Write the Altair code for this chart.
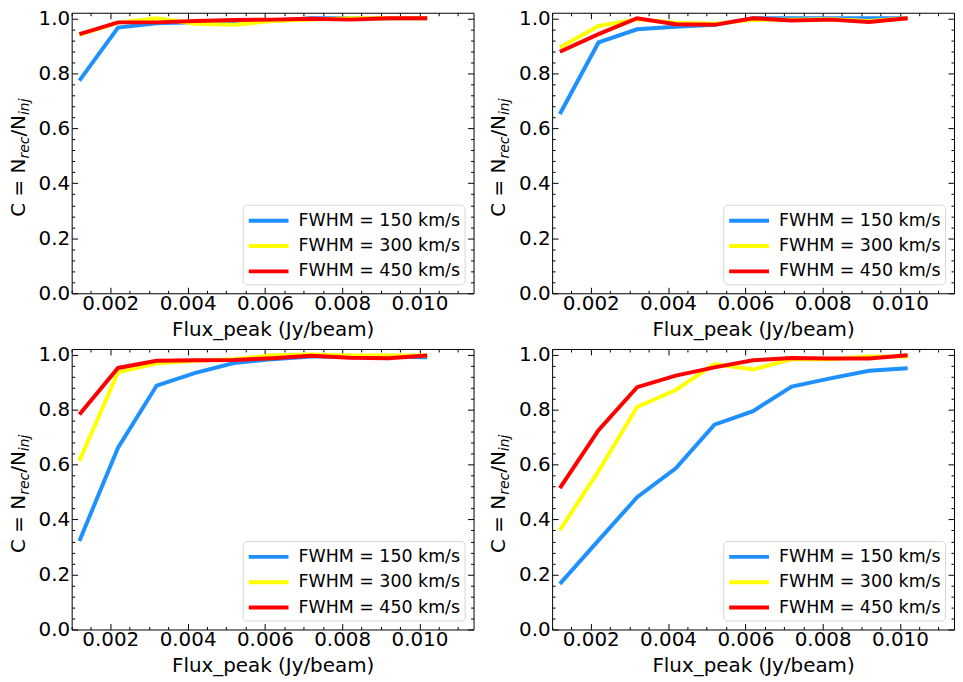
import altair as alt
import pandas as pd

# ---------------- data ----------------
flux = [0.0012, 0.0022, 0.0032, 0.0042, 0.0052, 0.0062, 0.0072, 0.0082, 0.0092, 0.0102]
series = ["FWHM = 150 km/s", "FWHM = 300 km/s", "FWHM = 450 km/s"]
colors = ["#1E90FF", "#FFFF00", "#FF0000"]

p1_150 = [0.773, 0.966, 0.982, 0.985, 0.990, 0.990, 1.000, 1.000, 1.000, 1.000]
p1_300 = [0.940, 0.984, 1.000, 0.980, 0.976, 0.990, 0.995, 1.000, 1.000, 1.000]
p1_450 = [0.942, 0.985, 0.985, 0.990, 0.994, 0.995, 0.998, 0.995, 1.000, 1.000]

p2_150 = [0.652, 0.912, 0.960, 0.969, 0.976, 1.000, 1.000, 1.000, 1.000, 1.000]
p2_300 = [0.894, 0.972, 0.996, 0.984, 0.980, 0.994, 0.995, 0.996, 0.990, 1.000]
p2_450 = [0.878, 0.942, 1.000, 0.978, 0.976, 1.000, 0.992, 0.995, 0.986, 1.000]

p3_150 = [0.322, 0.661, 0.887, 0.933, 0.969, 0.983, 0.993, 0.993, 0.993, 0.990]
p3_300 = [0.613, 0.935, 0.968, 0.977, 0.983, 0.997, 1.000, 0.996, 0.996, 0.996]
p3_450 = [0.782, 0.951, 0.977, 0.979, 0.980, 0.986, 0.995, 0.988, 0.986, 0.996]

p4_150 = [0.166, 0.324, 0.481, 0.586, 0.745, 0.794, 0.883, 0.913, 0.941, 0.950]
p4_300 = [0.361, 0.576, 0.809, 0.871, 0.965, 0.945, 0.983, 0.983, 0.993, 0.993]
p4_450 = [0.514, 0.725, 0.881, 0.923, 0.953, 0.979, 0.987, 0.985, 0.985, 0.997]

panels = [
    [p1_150, p1_300, p1_450],
    [p2_150, p2_300, p2_450],
    [p3_150, p3_300, p3_450],
    [p4_150, p4_300, p4_450],
]

x_major = [0.002, 0.004, 0.006, 0.008, 0.010]
x_minor = [0.0010, 0.0015, 0.0025, 0.0030, 0.0035, 0.0045, 0.0050, 0.0055, 0.0065,
           0.0070, 0.0075, 0.0085, 0.0090, 0.0095, 0.0105, 0.0110]
y_major = [0.0, 0.2, 0.4, 0.6, 0.8, 1.0]
y_minor = [0.04, 0.08, 0.12, 0.16, 0.24, 0.28, 0.32, 0.36, 0.44, 0.48, 0.52, 0.56,
           0.64, 0.68, 0.72, 0.76, 0.84, 0.88, 0.92, 0.96]

x_title = "Flux_peak (Jy/beam)"
y_title_parts = ["C = N", "rec", "/N", "inj"]

W, H = 404, 282
FONT = "DejaVu Sans"
x_scale = alt.Scale(domain=[0.001, 0.0114], nice=False, zero=False)
y_scale = alt.Scale(domain=[0.0, 1.02], nice=False, zero=False)


def make_df(vals):
    rows = []
    for name, ys in zip(series, vals):
        for fx, fy in zip(flux, ys):
            rows.append({"flux": fx, "C": fy, "series": name})
    return pd.DataFrame(rows)


def tick_axis(orient, values, size, labels=False, title=None, fmt=None, lpad=2):
    kw = dict(orient=orient, values=values, tickSize=size, offset=-size,
              domain=False, grid=False, labels=labels, tickColor="black",
              tickWidth=1)
    if labels:
        kw.update(format=fmt, labelFont=FONT, labelFontSize=20, labelColor="black",
                  labelPadding=lpad, labelFlush=False, labelOverlap=False)
    if title:
        kw.update(title=title, titleFont=FONT, titleFontSize=20,
                  titleFontWeight="normal", titleColor="black", titlePadding=6)
    else:
        kw.update(title=None)
    return alt.Axis(**kw)


def panel(vals):
    df = make_df(vals)
    base = alt.Chart(df)
    lines = base.mark_line(strokeWidth=4, clip=True).encode(
        x=alt.X("flux:Q", scale=x_scale,
                axis=tick_axis("bottom", x_major, 6, True, x_title, ".3f", lpad=0)),
        y=alt.Y("C:Q", scale=y_scale,
                axis=tick_axis("left", y_major, 6, True, None, ".1f")),
        color=alt.Color("series:N",
                        scale=alt.Scale(domain=series, range=colors),
                        legend=alt.Legend(title=None, orient="bottom-right",
                                          offset=9)),
        order=alt.Order("series:N"),
    )
    inv = base.mark_point(opacity=0)
    top_major = inv.encode(
        x=alt.X("flux:Q", scale=x_scale, axis=tick_axis("top", x_major, 6)),
        y=alt.Y("C:Q", scale=y_scale, axis=tick_axis("right", y_major, 6)),
    )
    minor_a = inv.encode(
        x=alt.X("flux:Q", scale=x_scale, axis=tick_axis("bottom", x_minor, 3)),
        y=alt.Y("C:Q", scale=y_scale, axis=tick_axis("left", y_minor, 3)),
    )
    minor_b = inv.encode(
        x=alt.X("flux:Q", scale=x_scale, axis=tick_axis("top", x_minor, 3)),
        y=alt.Y("C:Q", scale=y_scale, axis=tick_axis("right", y_minor, 3)),
    )
    # composite y title (with italic subscripts)
    tdf = pd.DataFrame({"k": [0]})
    t1 = alt.Chart(tdf).mark_text(text=y_title_parts[0], angle=270, align="left",
                                  baseline="alphabetic", font=FONT, fontSize=20,
                                  color="black").encode(x=alt.value(-47), y=alt.value(205))
    t2 = alt.Chart(tdf).mark_text(text=y_title_parts[1], angle=270, align="left",
                                  baseline="alphabetic", font=FONT, fontSize=14,
                                  fontStyle="italic",
                                  color="black").encode(x=alt.value(-43), y=alt.value(146.5))
    t3 = alt.Chart(tdf).mark_text(text=y_title_parts[2], angle=270, align="left",
                                  baseline="alphabetic", font=FONT, fontSize=20,
                                  color="black").encode(x=alt.value(-47), y=alt.value(124.5))
    t4 = alt.Chart(tdf).mark_text(text=y_title_parts[3], angle=270, align="left",
                                  baseline="alphabetic", font=FONT, fontSize=14,
                                  fontStyle="italic",
                                  color="black").encode(x=alt.value(-43), y=alt.value(102.8))
    return alt.layer(lines, top_major, minor_a, minor_b, t1, t2, t3, t4).resolve_axis(
        x="independent", y="independent"
    ).properties(width=W, height=H)


charts = [panel(v) for v in panels]

chart = alt.concat(*charts, columns=2, spacing={"row": 4, "column": 14}).resolve_legend(
    color="independent"
).properties(
    padding={"top": -2, "left": 0, "right": 0, "bottom": 0},
    background="white",
).configure_view(
    stroke="black", strokeWidth=1
).configure_legend(
    symbolType="M-1,0H3", symbolStrokeWidth=4, symbolSize=400,
    labelFont=FONT, labelFontSize=17.5, labelColor="black", labelOffset=28,
    padding=4, rowPadding=4.5, fillColor="white", strokeColor="#d6d6d6",
    cornerRadius=4, labelLimit=300
)

chart.save("out.html", embed_options={"renderer": "svg", "actions": False})
